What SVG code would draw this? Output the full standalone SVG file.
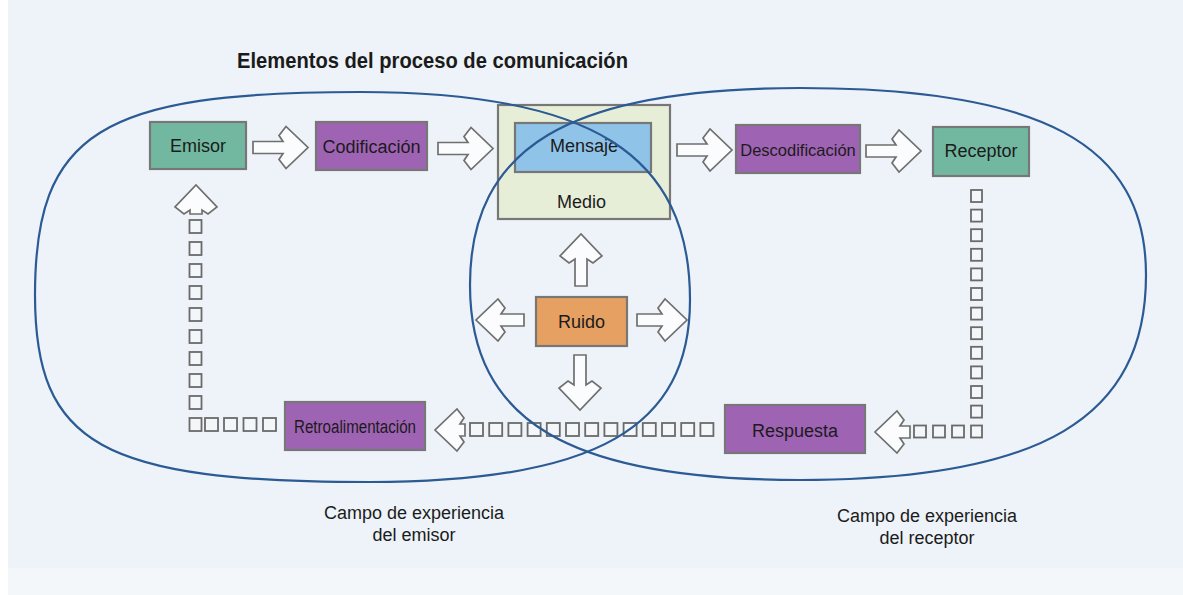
<svg xmlns="http://www.w3.org/2000/svg" width="1183" height="595" viewBox="0 0 1183 595">
<style>
.box{stroke:#777777;stroke-width:2.2}
.teal{fill:#72b8a0}
.purple{fill:#9f63b4}
.blue{fill:#8fc3e8}
.medio{fill:#e7eed8}
.orange{fill:#e6a062}
.lbl{font-family:"Liberation Sans",Arial,sans-serif;font-size:18px;fill:#1b1b1b;text-anchor:middle}
.arr{fill:#fbfcfd;stroke:#6f6f6f;stroke-width:1.7;stroke-linejoin:miter}
.sq{fill:#f4f7f9;stroke:#6a6a6a;stroke-width:1.8}
.field{fill:none;stroke:#2b5a94;stroke-width:2.2}
</style>
<rect x="0" y="0" width="1183" height="595" fill="#edf3f8"/>
<rect x="0" y="0" width="8" height="595" fill="#ffffff"/>
<rect x="8" y="568" width="1175" height="27" fill="#f3f7fa"/>

<text x="432.5" y="68" textLength="391" lengthAdjust="spacingAndGlyphs" style="font-family:'Liberation Sans',Arial,sans-serif;font-size:22px;font-weight:bold;fill:#1b1b1b;text-anchor:middle">Elementos del proceso de comunicación</text>

<g id="node-emisor">
<rect class="box teal" x="150" y="122" width="96" height="47"/>
<text class="lbl" x="198" y="152">Emisor</text>
</g>
<g id="node-codificacion">
<rect class="box purple" x="316" y="122" width="111" height="48"/>
<text class="lbl" x="371.5" y="153">Codificación</text>
</g>
<g id="node-medio">
<rect class="box medio" x="498" y="105" width="172" height="114"/>
<text class="lbl" x="581.5" y="208">Medio</text>
</g>
<g id="node-mensaje">
<rect class="box blue" x="515" y="123" width="136" height="49"/>
<text class="lbl" x="584" y="152">Mensaje</text>
</g>
<g id="node-descodificacion">
<rect class="box purple" x="736" y="125" width="124" height="48"/>
<text class="lbl" x="798" y="155.5" style="font-size:16.5px">Descodificación</text>
</g>
<g id="node-receptor">
<rect class="box teal" x="933" y="127" width="96" height="49"/>
<text class="lbl" x="981" y="157">Receptor</text>
</g>
<g id="node-ruido">
<rect class="box orange" x="536" y="297" width="91" height="49"/>
<text class="lbl" x="581.5" y="328">Ruido</text>
</g>
<g id="node-respuesta">
<rect class="box purple" x="725" y="405" width="140" height="48"/>
<text class="lbl" x="795" y="437">Respuesta</text>
</g>
<g id="node-retroalimentacion">
<rect class="box purple" x="285" y="402" width="140" height="48"/>
<text class="lbl" x="355" y="433" textLength="122" lengthAdjust="spacingAndGlyphs" style="font-size:18px">Retroalimentación</text>
</g>

<g id="connectors">
<path class="arr" transform="translate(253,147.5)" d="M0,-6H30L26,-12L33,-21L55,0L33,21L26,12L30,6H0Z"/>
<path class="arr" transform="translate(438,148.5)" d="M0,-6H30L26,-12L33,-21L55,0L33,21L26,12L30,6H0Z"/>
<path class="arr" transform="translate(677,150)" d="M0,-6H30L26,-12L33,-21L55,0L33,21L26,12L30,6H0Z"/>
<path class="arr" transform="translate(866,151)" d="M0,-6H30L26,-12L33,-21L55,0L33,21L26,12L30,6H0Z"/>
<path class="arr" transform="translate(581,286) rotate(-90)" d="M0,-6H27L23,-12L30,-21L52,0L30,21L23,12L27,6H0Z"/>
<path class="arr" transform="translate(524,320) rotate(180)" d="M0,-6H23L19,-12L26,-21L48,0L26,21L19,12L23,6H0Z"/>
<path class="arr" transform="translate(637,320)" d="M0,-6H25L21,-12L28,-21L50,0L28,21L21,12L25,6H0Z"/>
<path class="arr" transform="translate(580,355) rotate(90)" d="M0,-6H30L26,-12L33,-21L55,0L33,21L26,12L30,6H0Z"/>
<path class="arr" transform="translate(910,432) rotate(180)" d="M0,-6H10L6,-12L13,-21L35,0L13,21L6,12L10,6H0Z"/>
<path class="arr" transform="translate(465,430) rotate(180)" d="M0,-6H5L1,-12L8,-21L30,0L8,21L1,12L5,6H0Z"/>
<path class="arr" transform="translate(196,214) rotate(-90)" d="M0,-6H4L0,-12L7,-21L29,0L7,21L0,12L4,6H0Z"/>

<g id="chain-receptor-respuesta">
<rect class="sq" x="971" y="190" width="11" height="12"/>
<rect class="sq" x="971" y="209.6" width="11" height="12"/>
<rect class="sq" x="971" y="229.2" width="11" height="12"/>
<rect class="sq" x="971" y="248.8" width="11" height="12"/>
<rect class="sq" x="971" y="268.4" width="11" height="12"/>
<rect class="sq" x="971" y="288" width="11" height="12"/>
<rect class="sq" x="971" y="307.6" width="11" height="12"/>
<rect class="sq" x="971" y="327.2" width="11" height="12"/>
<rect class="sq" x="971" y="346.8" width="11" height="12"/>
<rect class="sq" x="971" y="366.4" width="11" height="12"/>
<rect class="sq" x="971" y="386" width="11" height="12"/>
<rect class="sq" x="971" y="405.6" width="11" height="12"/>
<rect class="sq" x="971" y="425.5" width="11" height="12"/>
<rect class="sq" x="914" y="425.5" width="12" height="12"/>
<rect class="sq" x="933" y="425.5" width="12" height="12"/>
<rect class="sq" x="952" y="425.5" width="12" height="12"/>
</g>
<g id="chain-respuesta-retro">
<rect class="sq" x="470" y="423" width="13" height="13"/>
<rect class="sq" x="489.2" y="423" width="13" height="13"/>
<rect class="sq" x="508.4" y="423" width="13" height="13"/>
<rect class="sq" x="527.6" y="423" width="13" height="13"/>
<rect class="sq" x="546.8" y="423" width="13" height="13"/>
<rect class="sq" x="566" y="423" width="13" height="13"/>
<rect class="sq" x="585.2" y="423" width="13" height="13"/>
<rect class="sq" x="604.4" y="423" width="13" height="13"/>
<rect class="sq" x="623.6" y="423" width="13" height="13"/>
<rect class="sq" x="642.8" y="423" width="13" height="13"/>
<rect class="sq" x="662" y="423" width="13" height="13"/>
<rect class="sq" x="681.2" y="423" width="13" height="13"/>
<rect class="sq" x="700.4" y="423" width="13" height="13"/>
</g>
<g id="chain-retro-emisor">
<rect class="sq" x="205" y="418" width="13" height="13"/>
<rect class="sq" x="224" y="418" width="13" height="13"/>
<rect class="sq" x="243.5" y="418" width="13" height="13"/>
<rect class="sq" x="263" y="418" width="13" height="13"/>
<rect class="sq" x="189.5" y="418" width="12" height="13"/>
<rect class="sq" x="189.5" y="396" width="12" height="13"/>
<rect class="sq" x="189.5" y="374" width="12" height="13"/>
<rect class="sq" x="189.5" y="352" width="12" height="13"/>
<rect class="sq" x="189.5" y="330" width="12" height="13"/>
<rect class="sq" x="189.5" y="308" width="12" height="13"/>
<rect class="sq" x="189.5" y="286" width="12" height="13"/>
<rect class="sq" x="189.5" y="264" width="12" height="13"/>
<rect class="sq" x="189.5" y="242" width="12" height="13"/>
<rect class="sq" x="189.5" y="220" width="12" height="13"/>
</g>
</g>

<g id="campos">
<path id="campo-emisor" class="field" d="M360,92 C591,92 690,154 690,300 C690,427 597,482 370,482 C102,482 35,445 35,295 C35,133 100,92 360,92 Z"/>
<path id="campo-receptor" class="field" d="M800,88 C1042,88 1146,144 1146,275 C1146,418 1042,480 800,480 C569,480 470,421 470,285 C470,147 569,88 800,88 Z"/>
</g>

<g id="labels">
<text class="lbl" x="414" y="519">Campo de experiencia</text>
<text class="lbl" x="414" y="541">del emisor</text>
<text class="lbl" x="927" y="522">Campo de experiencia</text>
<text class="lbl" x="927" y="544">del receptor</text>
</g>
</svg>
